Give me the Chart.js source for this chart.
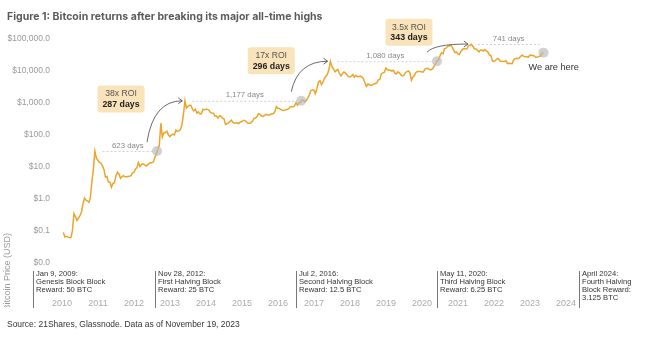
<!DOCTYPE html>
<html>
<head>
<meta charset="utf-8">
<script src="https://cdn.jsdelivr.net/npm/chart.js@4.4.0/dist/chart.umd.min.js"></script>
<style>
  html, body { margin: 0; padding: 0; background: #fff; }
  #wrap { width: 650px; height: 353px; position: relative; }
</style>
</head>
<body>
<div id="wrap"><canvas id="btcChart"></canvas></div>
<script>
// BTC price (USD), two readings per month (1st and 16th)
// 2010 starts at Jul 16, 2023 ends at Nov 16
const prices2010 = [0.09, 0.065, 0.068, 0.064, 0.062, 0.062, 0.10, 0.35, 0.28, 0.21, 0.25];
const prices2011 = [0.30, 0.39, 0.72, 1.05, 0.92, 0.87, 0.78, 1.05, 3.3, 8.0, 31, 19, 16, 13.8, 13, 10.9, 8.2, 4.8, 5.0, 3.4, 3.3, 2.3, 3.0, 3.2];
const prices2012 = [5.3, 6.8, 5.9, 4.4, 4.9, 5.3, 4.9, 4.9, 5.0, 5.1, 5.3, 6.4, 6.7, 8.5, 9.4, 13.5, 10.2, 11.8, 12.4, 11.8, 10.6, 11.2, 12.5, 13.3];
const prices2013 = [13.4, 14.5, 20.4, 27, 34.5, 47, 230, 85, 115, 118, 129, 100, 88, 97, 105, 99, 140, 127, 132, 145, 206, 430, 1150, 690];
const prices2014 = [770, 840, 830, 620, 560, 630, 480, 520, 450, 450, 630, 600, 640, 620, 590, 500, 480, 470, 380, 390, 330, 390, 380, 330];
const prices2015 = [315, 210, 225, 235, 260, 285, 245, 225, 235, 237, 225, 250, 258, 280, 280, 255, 230, 230, 237, 262, 325, 335, 362, 455];
const prices2016 = [433, 385, 372, 405, 435, 416, 417, 430, 450, 455, 537, 760, 676, 665, 606, 580, 573, 607, 615, 640, 730, 745, 755, 780];
const prices2017 = [1000, 830, 990, 1030, 1220, 1180, 1080, 1180, 1420, 1730, 2400, 2500, 2500, 1920, 2730, 4380, 4900, 3700, 4400, 5700, 6700, 7800, 10900, 19500];
const prices2018 = [13400, 11300, 9200, 10200, 10900, 8300, 6900, 8100, 9100, 8500, 7500, 6500, 6350, 6700, 7600, 6300, 7200, 6500, 6600, 6750, 6350, 5600, 4200, 3250];
const prices2019 = [3850, 3650, 3470, 3620, 3850, 4000, 4150, 5200, 5350, 7900, 8550, 9000, 12000, 10900, 10400, 10300, 9750, 10300, 8300, 8000, 9200, 8500, 7400, 6900];
const prices2020 = [7200, 8800, 9400, 9900, 8600, 5000, 6400, 7100, 8800, 9400, 9500, 9450, 9100, 9150, 11300, 11800, 11900, 10900, 10600, 11300, 13700, 16000, 19700, 21300];
const prices2021 = [29300, 36000, 33500, 49000, 49600, 56500, 58800, 61500, 57800, 46500, 36600, 38400, 33500, 31800, 39900, 46000, 48800, 47800, 48100, 61500, 61300, 66500, 57000, 47600];
const prices2022 = [47300, 43000, 38700, 44500, 44400, 41100, 46300, 40500, 38500, 31300, 29800, 20400, 19300, 20800, 23300, 24000, 20100, 19700, 19300, 19200, 20500, 16600, 17100, 16700];
const prices2023 = [16600, 21200, 23700, 24300, 23600, 24900, 28500, 30300, 28000, 27000, 27000, 26300, 30600, 30300, 29700, 28700, 25900, 26600, 27900, 28500, 34600, 36600];

const yearTicks = [2010, 2011, 2012, 2013, 2014, 2015, 2016, 2017, 2018, 2019, 2020, 2021, 2022, 2023, 2024];
const priceTicks = [0.01, 0.1, 1, 10, 100, 1000, 10000, 100000];

// previous all-time high -> breakout
const athDates = ['2011-06-08', '2013-12-04', '2017-12-17', '2021-11-10'];
const athPrices = [31, 1150, 19700, 68000];
const breakDates = ['2013-02-21', '2017-02-23', '2020-12-01', '2023-11-16'];
const daysLabels = ['623 days', '1,177 days', '1,080 days', '741 days'];
const roiLabels = ['38x ROI', '17x ROI', '3.5x ROI'];
const roiDays = ['287 days', '296 days', '343 days'];

const halvingText = [
  ['Jan 9, 2009:', 'Genesis Block Block', 'Reward: 50 BTC'],
  ['Nov 28, 2012:', 'First Halving Block', 'Reward: 25 BTC'],
  ['Jul 2, 2016:', 'Second Halving Block', 'Reward: 12.5 BTC'],
  ['May 11, 2020:', 'Third Halving Block', 'Reward: 6.25 BTC'],
  ['April 2024:', 'Fourth Halving', 'Block Reward:', '3.125 BTC']
];

const titleText = 'Figure 1: Bitcoin returns after breaking its major all-time highs';
const sourceText = 'Source: 21Shares, Glassnode. Data as of November 19, 2023';
const yTitle = 'Bitcoin Price (USD)';

// layout only (pixels)
const halvingX = [33, 155, 296, 437, 579];
const roiBoxOffset = [[-36, -52], [-30, -40], [-28, -29]];
const FONT = '"Liberation Sans", Arial, sans-serif';

function decYear(str) {
  const d = new Date(str + 'T00:00:00Z');
  const y = d.getUTCFullYear();
  const a = Date.UTC(y, 0, 1), b = Date.UTC(y + 1, 0, 1);
  return y + (d.getTime() - a) / (b - a);
}

// build {x, y} points from the yearly arrays
const yearly = [
  [2010, 13, prices2010], [2011, 0, prices2011], [2012, 0, prices2012], [2013, 0, prices2013],
  [2014, 0, prices2014], [2015, 0, prices2015], [2016, 0, prices2016], [2017, 0, prices2017],
  [2018, 0, prices2018], [2019, 0, prices2019], [2020, 0, prices2020], [2021, 0, prices2021],
  [2022, 0, prices2022], [2023, 0, prices2023]
];
const points = [];
yearly.forEach(([yr, firstSlot, vals]) => {
  vals.forEach((v, i) => {
    const slot = firstSlot + i;
    const mm = String(Math.floor(slot / 2) + 1).padStart(2, '0');
    const dd = slot % 2 ? '16' : '01';
    points.push({ x: decYear(`${yr}-${mm}-${dd}`), y: v });
  });
});

function fitFont(ctx, text, weight, family, width) {
  ctx.font = `${weight} 12px ${family}`;
  return 12 * width / ctx.measureText(text).width;
}

const decor = {
  id: 'decor',
  afterDraw(chart) {
    const ctx = chart.ctx;
    const xs = chart.scales.x, ys = chart.scales.y;
    ctx.save();
    ctx.textBaseline = 'middle';
    ctx.textAlign = 'left';

    // title + source
    const ts = fitFont(ctx, titleText, 'bold', 'Inter', 316);
    ctx.font = `bold ${ts}px Inter`;
    ctx.fillStyle = '#5b5b5b';
    ctx.fillText(titleText, 7, 17);
    const ss = fitFont(ctx, sourceText, 'normal', FONT, 233);
    ctx.font = `${ss}px ${FONT}`;
    ctx.fillStyle = '#333';
    ctx.fillText(sourceText, 7, 325);

    // y axis title (partly hidden, like the original)
    ctx.save();
    ctx.beginPath();
    ctx.rect(0, 0, 30, 307);
    ctx.clip();
    ctx.translate(8, 233);
    ctx.rotate(-Math.PI / 2);
    ctx.textAlign = 'right';
    ctx.fillStyle = '#999';
    ctx.font = `9px ${FONT}`;
    ctx.fillText(yTitle, 0, 0);
    ctx.restore();

    // halving blocks
    halvingText.forEach((lines, i) => {
      const x = halvingX[i];
      ctx.strokeStyle = '#777';
      ctx.lineWidth = 1;
      ctx.beginPath();
      ctx.moveTo(x + 0.5, 271);
      ctx.lineTo(x + 0.5, 308);
      ctx.stroke();
      ctx.fillStyle = '#333';
      ctx.font = `7.6px ${FONT}`;
      lines.forEach((t, j) => ctx.fillText(t, x + 3, 273.5 + j * 8.2));
    });

    const last = points[points.length - 1];
    athDates.forEach((d, i) => {
      const x0 = xs.getPixelForValue(decYear(d));
      const y0 = ys.getPixelForValue(athPrices[i]);
      const x1 = i === 3 ? xs.getPixelForValue(last.x) : xs.getPixelForValue(decYear(breakDates[i]));
      const y1 = i === 3 ? ys.getPixelForValue(last.y) : y0;

      // dashed span
      ctx.strokeStyle = '#cfcfcf';
      ctx.lineWidth = 1;
      ctx.setLineDash([2, 2]);
      ctx.beginPath();
      ctx.moveTo(x0 + 7, y0 + 0.5);
      ctx.lineTo(x1 - 4, y0 + 0.5);
      ctx.stroke();
      ctx.setLineDash([]);

      ctx.fillStyle = '#888';
      ctx.font = `7.8px ${FONT}`;
      ctx.textAlign = 'center';
      ctx.fillText(daysLabels[i], (x0 + 7 + x1 - 4) / 2, y0 - 5.5);

      // breakout dot
      ctx.fillStyle = 'rgba(185,185,185,0.65)';
      ctx.beginPath();
      ctx.arc(x1, y1, 5, 0, Math.PI * 2);
      ctx.fill();

      if (i < 3) {
        // arrow to the next peak
        const px = xs.getPixelForValue(decYear(athDates[i + 1]));
        const py = ys.getPixelForValue(athPrices[i + 1]);
        const sx = x1 - 10, sy = y1 - 9;
        const ex = px - 3, ey = py;
        ctx.strokeStyle = '#444';
        ctx.lineWidth = 0.8;
        ctx.beginPath();
        ctx.moveTo(sx, sy);
        ctx.quadraticCurveTo(sx + (ex - sx) * 0.18, ey, ex, ey);
        ctx.stroke();
        ctx.beginPath();
        ctx.moveTo(ex - 4, ey - 3);
        ctx.lineTo(ex, ey);
        ctx.lineTo(ex - 4, ey + 3);
        ctx.stroke();

        // ROI box
        const cx = x1 + roiBoxOffset[i][0], cy = y1 + roiBoxOffset[i][1];
        ctx.fillStyle = '#f9e3ba';
        ctx.beginPath();
        ctx.roundRect(cx - 23.5, cy - 13.5, 47, 27, 3);
        ctx.fill();
        ctx.fillStyle = '#555';
        ctx.font = `8.6px ${FONT}`;
        ctx.fillText(roiLabels[i], cx, cy - 5);
        ctx.fillStyle = '#222';
        ctx.font = `bold 8.8px ${FONT}`;
        ctx.fillText(roiDays[i], cx, cy + 5.5);
      }
      ctx.textAlign = 'left';
    });

    ctx.fillStyle = '#333';
    ctx.font = `9.2px ${FONT}`;
    ctx.fillText('We are here', xs.getPixelForValue(last.x) - 15, ys.getPixelForValue(last.y) + 15);
    ctx.restore();
  }
};

new Chart(document.getElementById('btcChart'), {
  type: 'line',
  data: {
    datasets: [{
      data: points,
      borderColor: '#eba52a',
      borderWidth: 1.5,
      pointRadius: 0,
      tension: 0
    }]
  },
  options: {
    responsive: true,
    maintainAspectRatio: false,
    animation: false,
    devicePixelRatio: 1,
    layout: { padding: { top: 29, right: 50, bottom: 44, left: 0 } },
    plugins: { legend: { display: false }, tooltip: { enabled: false } },
    scales: {
      x: {
        type: 'linear',
        bounds: 'data',
        min: 2010.306,
        max: 2025.444,
        grid: { display: false, drawTicks: false },
        border: { display: false },
        afterBuildTicks: (scale) => { scale.ticks = yearTicks.map(y => ({ value: y + 0.5 })); },
        afterFit: (scale) => { scale.height = 14; },
        ticks: {
          autoSkip: false,
          maxRotation: 0,
          padding: 3,
          color: '#aaa',
          font: { family: FONT, size: 9 },
          callback: (v) => String(Math.floor(v))
        }
      },
      y: {
        type: 'logarithmic',
        bounds: 'data',
        min: 0.001,
        max: 200000,
        grid: { display: false, drawTicks: false },
        border: { display: false },
        afterBuildTicks: (scale) => { scale.ticks = priceTicks.map(v => ({ value: v })); },
        afterFit: (scale) => { scale.width = 55; },
        ticks: {
          padding: 5,
          color: '#999',
          font: { family: FONT, size: 8.5 },
          callback: (v) => '$' + Number(v).toLocaleString('en-US', { minimumFractionDigits: 1, maximumFractionDigits: 1 })
        }
      }
    }
  },
  plugins: [decor]
});
</script>
</body>
</html>
